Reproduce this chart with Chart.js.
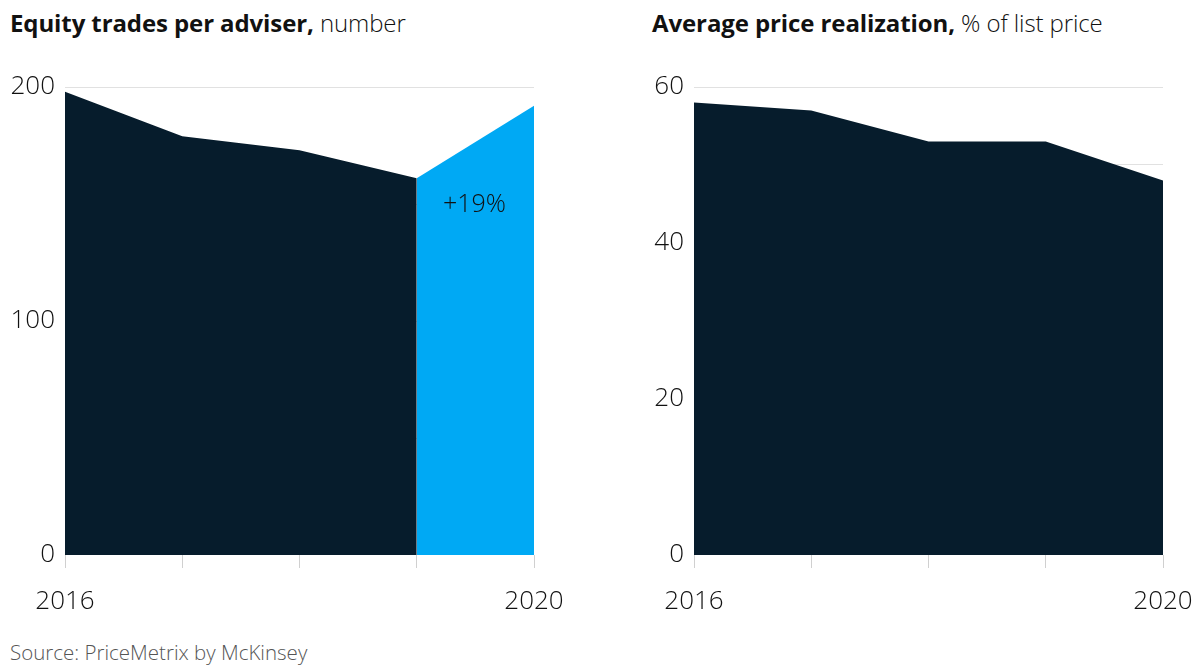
<!DOCTYPE html>
<html>
<head>
<meta charset="utf-8">
<script src="https://cdn.jsdelivr.net/npm/chart.js@4/dist/chart.umd.min.js"></script>
<style>
  html, body { margin: 0; padding: 0; background: #fff; }
  body { width: 1200px; height: 670px; position: relative; overflow: hidden; font-family: "Open Sans", "Liberation Sans", sans-serif; color: #111; }
  .title { position: absolute; top: 6px; font-size: 24px; line-height: 34px; white-space: nowrap; letter-spacing: -0.1px; }
  .title b { font-weight: 700; }
  .title span { font-weight: 300; }
  .box { position: absolute; }
  .source { position: absolute; left: 10px; top: 638px; font-size: 20.5px; line-height: 28px; font-weight: 300; color: #555; }
</style>
</head>
<body>
<div class="title" style="left:10px;"><b>Equity trades per adviser,</b> <span>number</span></div>
<div class="title" style="left:652px;"><b>Average price realization,</b> <span>% of list price</span></div>
<div class="box" style="left:0px;top:70px;width:580px;height:560px;"><canvas id="c1"></canvas></div>
<div class="box" style="left:630px;top:70px;width:570px;height:560px;"><canvas id="c2"></canvas></div>
<div class="source">Source: PriceMetrix by McKinsey</div>
<script>
const years = ['2016', '2017', '2018', '2019', '2020'];
const shownYears = ['2016', '2020'];
const trades = [198, 179, 173, 161, 192];
const highlightStart = 3;           // index where the highlighted rise begins
const changeLabel = '+19%';
const priceRealization = [58, 57, 53, 53, 48];
const tradesTicks = [0, 100, 200];
const priceTicks = [0, 20, 40, 60];

const DARK = '#061c2c';
const BLUE = '#00a9f4';
const FONT = '"Open Sans", "Liberation Sans", sans-serif';

function baseOptions(maxY, step, labelled, yWidth, padRight) {
  return {
    responsive: true,
    maintainAspectRatio: false,
    animation: false,
    layout: { padding: { top: 17, right: padRight, left: 0, bottom: 0 } },
    plugins: { legend: { display: false }, tooltip: { enabled: false } },
    elements: { point: { radius: 0 }, line: { tension: 0, borderWidth: 0 } },
    scales: {
      x: {
        type: 'category',
        offset: false,
        border: { display: false },
        grid: { display: true, drawOnChartArea: false, drawTicks: true, tickLength: 13, color: '#d0d0d0' },
        ticks: {
          autoSkip: false, maxRotation: 0, padding: 18, color: '#111',
          font: { family: FONT, size: 26, weight: 300 },
          callback: function (v) { const l = this.getLabelForValue(v); return shownYears.includes(l) ? l : ''; }
        },
        afterFit: s => { s.height = 75; s.paddingLeft = 0; s.paddingRight = 0; }
      },
      y: {
        min: 0, max: maxY, z: 1,
        border: { display: false },
        grid: {
          drawTicks: false,
          color: ctx => (ctx.tick && ctx.tick.value === 0) ? 'rgba(0,0,0,0)' : 'rgba(205,205,205,0.6)',
          lineWidth: 1
        },
        ticks: {
          stepSize: step, padding: 10, color: '#111',
          font: { family: FONT, size: 26, weight: 300 },
          callback: v => labelled.includes(v) ? String(v) : ''
        },
        afterFit: s => { s.width = yWidth; s.paddingTop = 0; s.paddingBottom = 0; }
      }
    }
  };
}

const labelPlugin = {
  id: 'changeLabel',
  afterDraw(chart) {
    const xs = chart.scales.x, ys = chart.scales.y, ctx = chart.ctx;
    const x = (xs.getPixelForValue(highlightStart) + xs.getPixelForValue(years.length - 1)) / 2;
    const y = ys.getPixelForValue(150);
    ctx.save();
    ctx.font = '300 25px ' + FONT;
    ctx.fillStyle = '#111';
    ctx.textAlign = 'center';
    ctx.textBaseline = 'middle';
    ctx.fillText(changeLabel, x - 1, y + 1);
    ctx.restore();
  }
};

new Chart(document.getElementById('c1'), {
  type: 'line',
  data: {
    labels: years,
    datasets: [
      { data: trades.map((v, i) => i <= highlightStart ? v : null), fill: 'origin', backgroundColor: DARK, borderColor: DARK, spanGaps: false },
      { data: trades.map((v, i) => i >= highlightStart ? v : null), fill: 'origin', backgroundColor: BLUE, borderColor: BLUE, spanGaps: false }
    ]
  },
  options: baseOptions(200, 50, tradesTicks, 65, 46),
  plugins: [labelPlugin]
});

new Chart(document.getElementById('c2'), {
  type: 'line',
  data: {
    labels: years,
    datasets: [
      { data: priceRealization, fill: 'origin', backgroundColor: DARK, borderColor: DARK }
    ]
  },
  options: baseOptions(60, 10, priceTicks, 64, 37)
});
</script>
</body>
</html>
